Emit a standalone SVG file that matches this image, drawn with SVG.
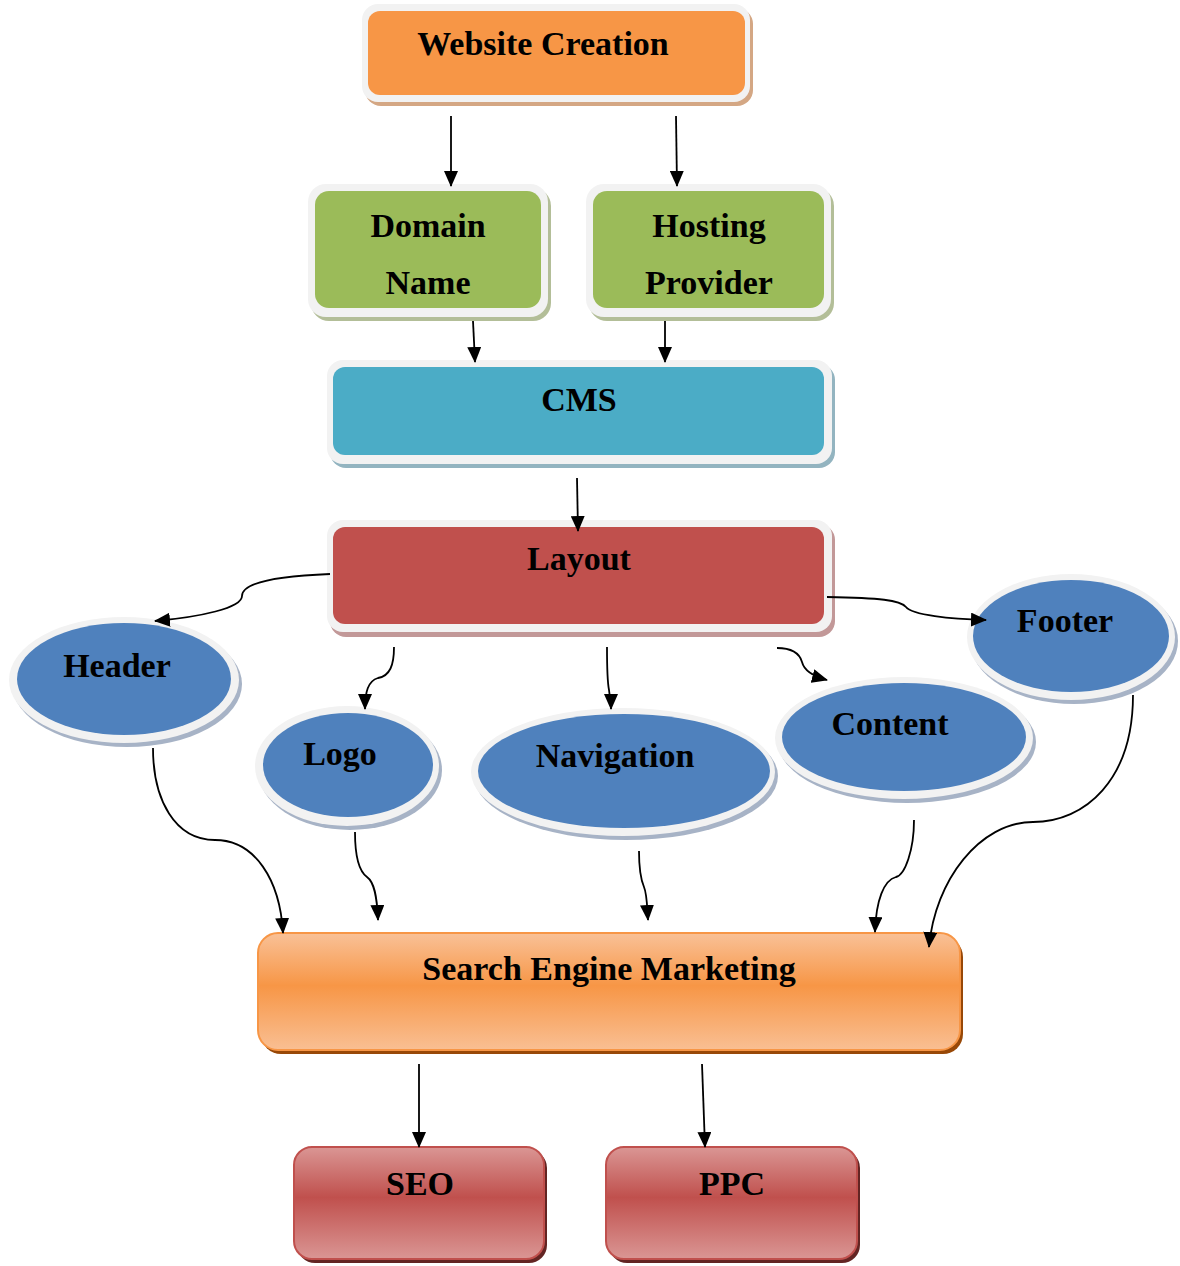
<svg xmlns="http://www.w3.org/2000/svg" width="1180" height="1266" viewBox="0 0 1180 1266">
<defs>
<marker id="arr" markerUnits="userSpaceOnUse" markerWidth="16" markerHeight="14" refX="15" refY="7" orient="auto">
<path d="M0,0 L16,7 L0,14 z" fill="#000"/>
</marker>
<linearGradient id="gOrange" x1="0" y1="0" x2="0" y2="1">
<stop offset="0" stop-color="#F9C197"/>
<stop offset="0.45" stop-color="#F79646"/>
<stop offset="1" stop-color="#F9BF93"/>
</linearGradient>
<linearGradient id="gRed" x1="0" y1="0" x2="0" y2="1">
<stop offset="0" stop-color="#DA9694"/>
<stop offset="0.45" stop-color="#C0504D"/>
<stop offset="1" stop-color="#DA9694"/>
</linearGradient>
<style>
.frame{fill:#F2F2F2}
.lbl{font-family:"Liberation Serif","Times New Roman",serif;font-weight:bold;font-size:34px;fill:#000;text-anchor:middle}
.conn{fill:none;stroke:#000;stroke-width:1.8;marker-end:url(#arr)}
.eshadow{fill:#A7B3C6}
.blue{fill:#4F81BD}
</style>
</defs>
<rect width="1180" height="1266" fill="#fff"/>

<g id="website-creation">
<rect x="365" y="8" width="388" height="98" rx="16" fill="#D4A784"/>
<rect class="frame" x="362" y="4" width="388" height="98" rx="16"/>
<rect x="368" y="11" width="377" height="84" rx="12" fill="#F79646"/>
<text class="lbl" x="543" y="55">Website Creation</text>
</g>

<g id="domain-name">
<rect x="311" y="188" width="240" height="133" rx="18" fill="#B3BE98"/>
<rect class="frame" x="308" y="184" width="240" height="133" rx="18"/>
<rect x="315" y="191" width="226" height="117" rx="14" fill="#9BBB59"/>
<text class="lbl" x="428" y="237">Domain</text>
<text class="lbl" x="428" y="294">Name</text>
</g>

<g id="hosting-provider">
<rect x="589" y="188" width="245" height="133" rx="18" fill="#B3BE98"/>
<rect class="frame" x="586" y="184" width="245" height="133" rx="18"/>
<rect x="593" y="191" width="231" height="117" rx="14" fill="#9BBB59"/>
<text class="lbl" x="709" y="237">Hosting</text>
<text class="lbl" x="709" y="294">Provider</text>
</g>

<g id="cms">
<rect x="330" y="364" width="505" height="104" rx="16" fill="#93B4C0"/>
<rect class="frame" x="327" y="360" width="505" height="104" rx="16"/>
<rect x="333" y="367" width="491" height="88" rx="12" fill="#4BACC6"/>
<text class="lbl" x="579" y="411">CMS</text>
</g>

<g id="layout">
<rect x="330" y="524" width="505" height="113" rx="16" fill="#C29898"/>
<rect class="frame" x="327" y="520" width="505" height="112" rx="16"/>
<rect x="333" y="527" width="491" height="97" rx="12" fill="#C0504D"/>
<text class="lbl" x="579" y="570">Layout</text>
</g>

<g id="header">
<ellipse class="eshadow" cx="127" cy="684" rx="115" ry="63"/>
<ellipse class="frame" cx="124" cy="680" rx="115" ry="63"/>
<ellipse class="blue" cx="124" cy="679" rx="107" ry="56"/>
<text class="lbl" x="117" y="677">Header</text>
</g>

<g id="logo">
<ellipse class="eshadow" cx="350" cy="770" rx="92" ry="60"/>
<ellipse class="frame" cx="347" cy="766" rx="92" ry="60"/>
<ellipse class="blue" cx="348" cy="765" rx="85" ry="52"/>
<text class="lbl" x="340" y="765">Logo</text>
</g>

<g id="navigation">
<ellipse class="eshadow" cx="626" cy="776" rx="152" ry="64"/>
<ellipse class="frame" cx="623" cy="772" rx="152" ry="64"/>
<ellipse class="blue" cx="624" cy="771" rx="146" ry="57"/>
<text class="lbl" x="615" y="767">Navigation</text>
</g>

<g id="content">
<ellipse class="eshadow" cx="907" cy="742" rx="129" ry="61"/>
<ellipse class="frame" cx="904" cy="738" rx="129" ry="61"/>
<ellipse class="blue" cx="904" cy="737" rx="122" ry="54"/>
<text class="lbl" x="890" y="735">Content</text>
</g>

<g id="footer">
<ellipse class="eshadow" cx="1074" cy="641" rx="104" ry="63"/>
<ellipse class="frame" cx="1071" cy="637" rx="104" ry="63"/>
<ellipse class="blue" cx="1071" cy="636" rx="98" ry="56"/>
<text class="lbl" x="1065" y="632">Footer</text>
</g>

<g id="search-engine-marketing">
<rect x="261" y="937" width="702" height="117" rx="20" fill="#984807"/>
<rect x="258" y="933" width="702" height="117" rx="20" fill="url(#gOrange)" stroke="#F79646" stroke-width="2"/>
<text class="lbl" x="609" y="980">Search Engine Marketing</text>
</g>

<g id="seo">
<rect x="297" y="1150" width="250" height="113" rx="18" fill="#632523"/>
<rect x="294" y="1147" width="250" height="112" rx="18" fill="url(#gRed)" stroke="#C0504D" stroke-width="2"/>
<text class="lbl" x="420" y="1195">SEO</text>
</g>

<g id="ppc">
<rect x="609" y="1150" width="251" height="113" rx="18" fill="#632523"/>
<rect x="606" y="1147" width="251" height="112" rx="18" fill="url(#gRed)" stroke="#C0504D" stroke-width="2"/>
<text class="lbl" x="732" y="1195">PPC</text>
</g>

<g id="connectors">
<path class="conn" d="M451,116 L451,186"/>
<path class="conn" d="M676,116 L677,186"/>
<path class="conn" d="M473,321 L475,362"/>
<path class="conn" d="M665,321 L665,362"/>
<path class="conn" d="M577,478 L578,531"/>
<path class="conn" d="M330,574 C280,576 242,582 242,596 C242,608 200,617 155,621"/>
<path class="conn" d="M394,647 C394,665 390,676 378,678 C368,681 365,692 365,709"/>
<path class="conn" d="M607,647 C607,665 607,680 609,690 C610,698 611,703 611,709"/>
<path class="conn" d="M777,648 C795,648 800,655 802,662 C804,670 812,676 827,680"/>
<path class="conn" d="M827,597 C880,598 900,600 906,607 C912,615 950,619 986,620"/>
<path class="conn" d="M153,748 C153,800 175,840 215,840 C255,840 280,880 283,933"/>
<path class="conn" d="M355,832 C355,860 360,872 367,877 C374,882 377,895 378,920"/>
<path class="conn" d="M639,851 C639,870 641,880 644,887 C647,894 647,905 648,920"/>
<path class="conn" d="M914,820 C914,850 905,875 896,877 C884,880 876,900 875,932"/>
<path class="conn" d="M1133,695 C1133,780 1085,822 1033,822 C980,822 935,880 929,947"/>
<path class="conn" d="M419,1064 L419,1147"/>
<path class="conn" d="M702,1064 L705,1147"/>
</g>
</svg>
